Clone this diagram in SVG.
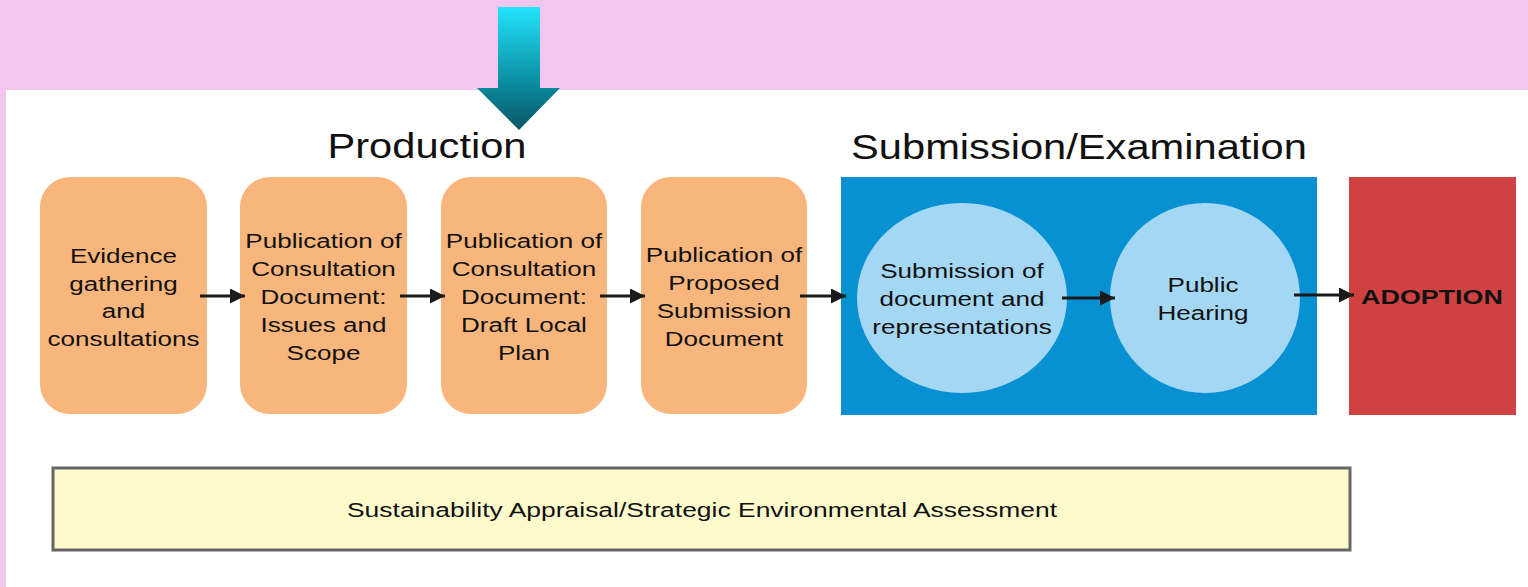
<svg xmlns="http://www.w3.org/2000/svg" width="1528" height="587" viewBox="0 0 1528 587">
<style>
text{font-family:"Liberation Sans",Arial,sans-serif;fill:#111;}
.t{font-size:21px;text-anchor:middle;}
.h{font-size:35px;text-anchor:middle;}
.orange{fill:#F8B67C;}
.circ{fill:#A4D7F3;}
.conn{stroke:#1a1a1a;stroke-width:3;fill:none;marker-end:url(#ah);}
</style>
<defs>
<linearGradient id="g" x1="0" y1="0" x2="0" y2="1">
<stop offset="0" stop-color="#22E3FC"/>
<stop offset="0.6" stop-color="#0B8FA3"/>
<stop offset="1" stop-color="#0A5766"/>
</linearGradient>
<marker id="ah" viewBox="0 0 10 10" refX="10" refY="5" markerWidth="5" markerHeight="5" orient="auto" markerUnits="strokeWidth">
<path d="M0,0 L10,5 L0,10 z" fill="#1a1a1a"/>
</marker>
</defs>
<rect x="0" y="0" width="1528" height="587" fill="#F2C6EE"/>
<rect x="6" y="90" width="1522" height="497" fill="#FFFFFF"/>
<g id="topArrow">
<path d="M498,7 H540 V88 H560 L519,130 L477,88 H498 Z" fill="url(#g)"/>
</g>
<g id="titleProduction"><g transform="translate(427,0) scale(1.19,1) translate(-427,0)"><text class="h" x="427" y="158">Production</text></g></g>
<g id="titleSubmission"><g transform="translate(1079,0) scale(1.19,1) translate(-1079,0)"><text class="h" x="1079" y="159">Submission/Examination</text></g></g>
<g id="n1"><rect class="orange" x="40" y="177" width="167" height="237" rx="30"/>
<g transform="translate(123.5,0) scale(1.24,1) translate(-123.5,0)">
<text class="t" x="123.5" y="263">Evidence</text><text class="t" x="123.5" y="291">gathering</text><text class="t" x="123.5" y="318">and</text><text class="t" x="123.5" y="346">consultations</text></g></g>
<g id="n2"><rect class="orange" x="240" y="177" width="167" height="237" rx="30"/>
<g transform="translate(323.5,0) scale(1.24,1) translate(-323.5,0)">
<text class="t" x="323.5" y="248">Publication of</text><text class="t" x="323.5" y="276">Consultation</text><text class="t" x="323.5" y="304">Document:</text><text class="t" x="323.5" y="332">Issues and</text><text class="t" x="323.5" y="360">Scope</text></g></g>
<g id="n3"><rect class="orange" x="441" y="177" width="166" height="237" rx="30"/>
<g transform="translate(524,0) scale(1.24,1) translate(-524,0)">
<text class="t" x="524" y="248">Publication of</text><text class="t" x="524" y="276">Consultation</text><text class="t" x="524" y="304">Document:</text><text class="t" x="524" y="332">Draft Local</text><text class="t" x="524" y="360">Plan</text></g></g>
<g id="n4"><rect class="orange" x="641" y="177" width="166" height="237" rx="30"/>
<g transform="translate(724,0) scale(1.24,1) translate(-724,0)">
<text class="t" x="724" y="262">Publication of</text><text class="t" x="724" y="290">Proposed</text><text class="t" x="724" y="318">Submission</text><text class="t" x="724" y="346">Document</text></g></g>
<g id="submissionGroup"><rect x="841" y="177" width="476" height="238" fill="#0891D2"/></g>
<g id="n5"><ellipse class="circ" cx="962" cy="298" rx="105" ry="95"/>
<g transform="translate(962,0) scale(1.24,1) translate(-962,0)">
<text class="t" x="962" y="278">Submission of</text><text class="t" x="962" y="306">document and</text><text class="t" x="962" y="334">representations</text></g></g>
<g id="n6"><circle class="circ" cx="1205" cy="298" r="95"/>
<g transform="translate(1203,0) scale(1.24,1) translate(-1203,0)">
<text class="t" x="1203" y="292">Public</text><text class="t" x="1203" y="320">Hearing</text></g></g>
<g id="n7"><rect x="1349" y="177" width="167" height="238" fill="#D04242"/>
<g transform="translate(1432,0) scale(1.28,1) translate(-1432,0)">
<text class="t" x="1432" y="304" style="font-weight:bold">ADOPTION</text></g></g>
<g id="n8"><rect x="53" y="468" width="1297" height="82" fill="#FEFACC" stroke="#666" stroke-width="3"/>
<g transform="translate(702,0) scale(1.26,1) translate(-702,0)">
<text class="t" x="702" y="517">Sustainability Appraisal/Strategic Environmental Assessment</text></g></g>
<g id="connectors">
<line class="conn" x1="200" y1="296" x2="245" y2="296"/>
<line class="conn" x1="400" y1="296" x2="445" y2="296"/>
<line class="conn" x1="600" y1="296" x2="645" y2="296"/>
<line class="conn" x1="800" y1="296" x2="846" y2="296"/>
<line class="conn" x1="1062" y1="298" x2="1115" y2="298"/>
<line class="conn" x1="1294" y1="295" x2="1354" y2="295"/>
</g>
</svg>
